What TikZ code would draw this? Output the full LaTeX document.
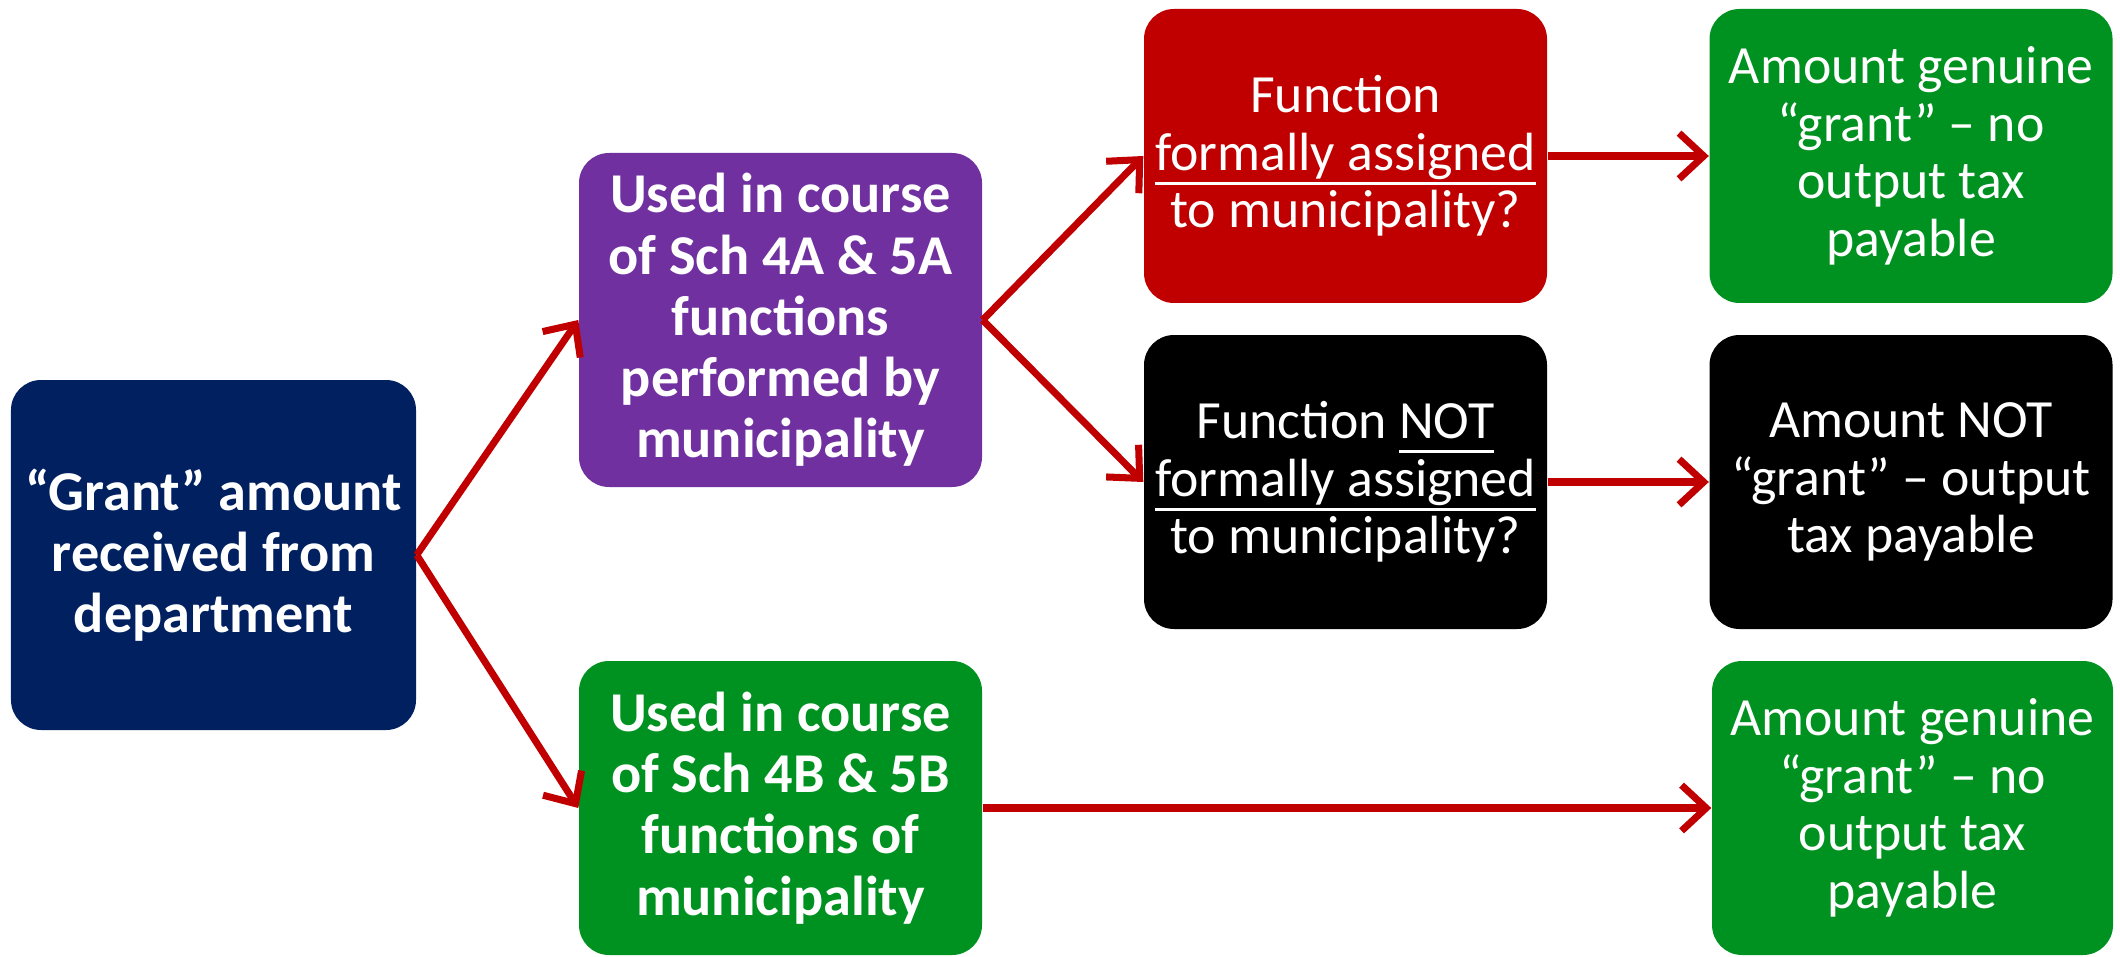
\documentclass[tikz,border=0pt]{standalone}
\usepackage{fontspec}
\setmainfont{Carlito}
\usetikzlibrary{arrows.meta}
\definecolor{navyc}{RGB}{0,32,96}
\definecolor{purplec}{RGB}{112,48,160}
\definecolor{redc}{RGB}{192,0,0}
\definecolor{greenc}{RGB}{0,146,32}
\definecolor{arrowc}{RGB}{192,0,0}
\newcommand{\myul}[1]{\setbox0\hbox{#1}\leavevmode\rlap{\copy0}\raisebox{-0.27em}{\rule{\wd0}{0.9pt}}}
\tikzset{
  box/.style={rounded corners=0.3cm, text=white, align=center, inner sep=2pt,
    minimum width=4.03cm, minimum height=2.94cm},
  boldtxt/.style={font=\fontsize{16}{17.4}\selectfont\bfseries},
  regtxt/.style={font=\fontsize{15.3}{16.4}\selectfont},
  conn/.style={draw=arrowc, line width=2pt, -{Straight Barb[length=7pt,width=13pt,line width=2pt]}},
}
\begin{document}
\begin{tikzpicture}
\useasboundingbox (0,0) rectangle (21.2,-9.56);
\node[box, boldtxt, fill=navyc, minimum width=4.05cm, minimum height=3.5cm] (grant) at (2.135,-5.55)
  {“Grant” amount\\received from\\department};
\node[box, boldtxt, fill=purplec, minimum height=3.34cm] (used) at (7.805,-3.20)
  {Used in course\\of Sch 4A \& 5A\\functions\\performed by\\municipality};
\node[box, boldtxt, fill=greenc] (usedb) at (7.805,-8.08)
  {Used in course\\of Sch 4B \& 5B\\functions of\\municipality};
\node[box, regtxt, fill=redc] (fa) at (13.455,-1.56)
  {Function\\\myul{formally assigned}\\to municipality?};
\node[box, regtxt, fill=black] (fna) at (13.455,-4.82)
  {Function \myul{NOT}\\\myul{formally assigned}\\to municipality?};
\node[box, regtxt, fill=greenc] (g1) at (19.11,-1.56)
  {Amount genuine\\“grant” – no\\output tax\\payable};
\node[box, regtxt, fill=black] (ng) at (19.11,-4.82)
  {Amount NOT\\“grant” – output\\tax payable};
\node[box, regtxt, fill=greenc, minimum width=4.01cm] (g2) at (19.125,-8.08)
  {Amount genuine\\“grant” – no\\output tax\\payable};
\draw[conn] (grant.east) -- (used.west);
\draw[conn] (grant.east) -- (usedb.west);
\draw[conn] (used.east) -- (fa.west);
\draw[conn] (used.east) -- (fna.west);
\draw[conn] (fa.east) -- (g1.west);
\draw[conn] (fna.east) -- (ng.west);
\draw[conn] (usedb.east) -- (g2.west);
\end{tikzpicture}
\end{document}
